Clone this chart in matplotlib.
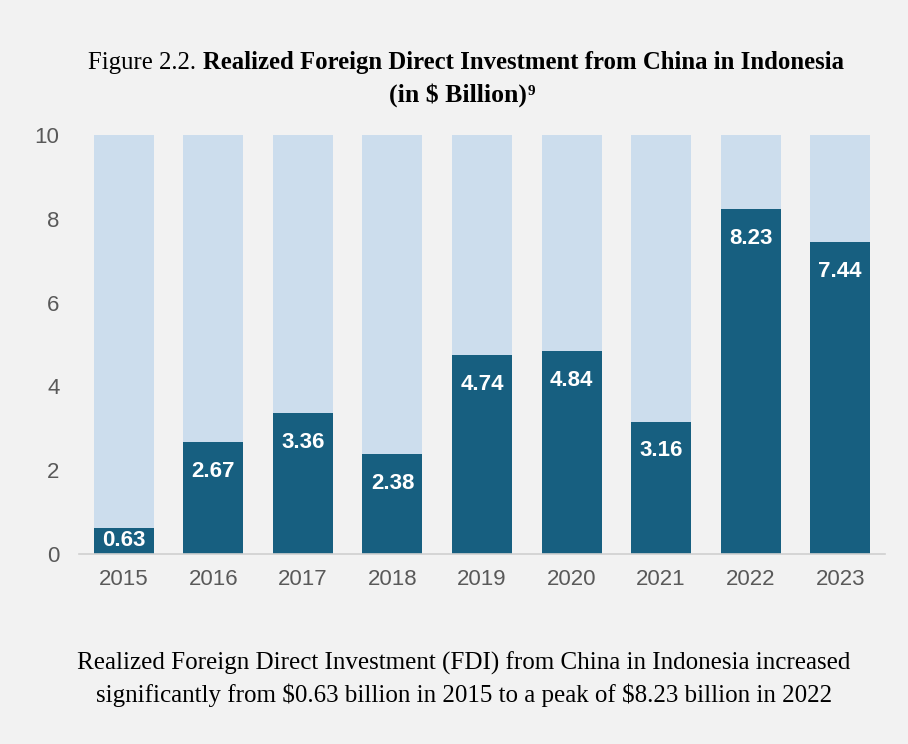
import matplotlib
matplotlib.use("Agg")
import matplotlib.pyplot as plt
from matplotlib import font_manager as fm
import numpy as np

# Дані
years = ["2015", "2016", "2017", "2018", "2019", "2020", "2021", "2022", "2023"]
fdi = [0.63, 2.67, 3.36, 2.38, 4.74, 4.84, 3.16, 8.23, 7.44]
axis_max = 10

bg = "#f2f2f2"
dark = "#175f80"
light = "#ccdded"


def font_file(name, weight):
    # беремо саме звичайну (не Narrow) гарнітуру
    for f in fm.fontManager.ttflist:
        if f.name == name and f.weight == weight and f.style == "normal" \
                and "Narrow" not in f.fname:
            return f.fname
    return None


sans_reg = fm.FontProperties(fname=font_file("Liberation Sans", 400))
sans_bold = fm.FontProperties(fname=font_file("Liberation Sans", 700))

fig = plt.figure(figsize=(9.08, 7.44), dpi=100, facecolor=bg)
ax = fig.add_axes([0.087, 0.2554, 0.8877, 0.5632], facecolor=bg)

x = np.arange(len(years))
ax.bar(x, [axis_max] * len(years), width=0.67, color=light, zorder=1)
ax.bar(x, fdi, width=0.67, color=dark, zorder=2)

# Підписи значень всередині стовпців
px_per_unit = 0.5632 * 744 / axis_max
for xi, v in zip(x, fdi):
    off = min(29, v * px_per_unit / 2)
    ax.annotate(f"{v:.2f}", (xi, v), xytext=(0, -off), textcoords="offset pixels",
                ha="center", va="center", color="white", fontproperties=sans_bold,
                fontsize=16, zorder=3)

ax.set_xlim(-0.5, len(years) - 0.5)
ax.set_ylim(0, axis_max)
ax.set_xticks(x)
ax.set_xticklabels(years)
ax.set_yticks([0, 2, 4, 6, 8, 10])
for s in ["top", "right", "left"]:
    ax.spines[s].set_visible(False)
ax.spines["bottom"].set_color("#d0d0d0")
ax.spines["bottom"].set_linewidth(1.2)
ax.tick_params(axis="both", length=0, labelcolor="#595959")
ax.tick_params(axis="x", pad=11)
ax.tick_params(axis="y", pad=14)
for lab in ax.get_xticklabels() + ax.get_yticklabels():
    lab.set_fontproperties(sans_reg)
    lab.set_fontsize(16)

# Заголовок: звичайна + жирна частина
serif = "Liberation Serif"
cx = 466
t1 = fig.text(0, 0, "Figure 2.2. ", fontsize=17.8, family=serif, va="baseline")
t2 = fig.text(0, 0, "Realized Foreign Direct Investment from China in Indonesia",
              fontsize=17.8, family=serif, fontweight="bold", va="baseline")
fig.canvas.draw()
r = fig.canvas.get_renderer()
w1 = t1.get_window_extent(r).width
w2 = t2.get_window_extent(r).width
x0 = cx - (w1 + w2) / 2
y1 = 1 - 69 / 744
t1.set_position((x0 / 908, y1))
t2.set_position(((x0 + w1) / 908, y1))

t3 = fig.text(0, 0, "(in \\$ Billion)", fontsize=18.5, family=serif, fontweight="bold",
              va="baseline")
t4 = fig.text(0, 0, "9", fontsize=11, family=serif, fontweight="bold", va="baseline")
fig.canvas.draw()
w3 = t3.get_window_extent(r).width
w4 = t4.get_window_extent(r).width
x3 = 462 - (w3 + w4) / 2
y2 = 1 - 102 / 744
t3.set_position((x3 / 908, y2))
t4.set_position(((x3 + w3) / 908, y2 + 7 / 744))

# Підпис під графіком
fig.text(464 / 908, 1 - 663 / 744,
         "Realized Foreign Direct Investment (FDI) from China in Indonesia increased",
         ha="center", va="center", fontsize=18, family=serif)
fig.text(464 / 908, 1 - 695 / 744,
         "significantly from \\$0.63 billion in 2015 to a peak of \\$8.23 billion in 2022",
         ha="center", va="center", fontsize=18, family=serif)

fig.savefig("out.png", dpi=100, facecolor=bg)
